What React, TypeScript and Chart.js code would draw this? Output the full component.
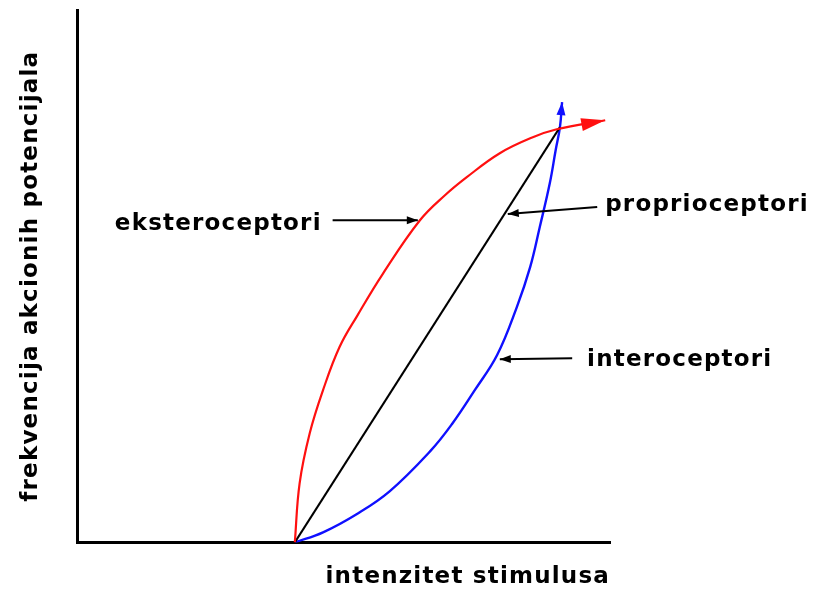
import React, { useEffect, useRef } from "react";
import { Chart, registerables } from "chart.js";

Chart.register(...registerables);

// Axis ranges (abstract units)
const X_RANGE = [0, 10];
const Y_RANGE = [0, 10];

// Axis titles
const X_TITLE = "intenzitet stimulusa";
const Y_TITLE = "frekvencija akcionih potencijala";

// Series: eksteroceptori (red)
const EXTERO_X = [4.08, 4.17, 4.36, 4.61, 4.92, 5.26, 5.73, 6.43, 6.9, 7.31, 7.93, 8.55, 9.0, 9.91];
const EXTERO_Y = [0.0, 1.11, 2.05, 2.86, 3.67, 4.27, 5.04, 6.05, 6.52, 6.86, 7.31, 7.61, 7.76, 7.93];

// Series: proprioceptori (black)
const PROPRIO_X = [4.08, 9.06];
const PROPRIO_Y = [0.0, 7.8];

// Series: interoceptori (blue)
const INTERO_X = [4.08, 4.61, 5.24, 5.86, 6.62, 7.03, 7.46, 7.88, 8.25, 8.5, 8.68, 8.87, 8.98, 9.06, 9.1];
const INTERO_Y = [0.0, 0.19, 0.53, 0.96, 1.71, 2.22, 2.86, 3.52, 4.42, 5.17, 5.92, 6.75, 7.37, 7.8, 8.27];

// Labels with pointer arrows (data coordinates)
const LABEL_TEXT = ["eksteroceptori", "proprioceptori", "interoceptori"];
const LABEL_X = [0.7, 9.91, 9.57];
const LABEL_Y = [5.98, 6.33, 3.42];
const POINTER_FROM_X = [4.79, 9.76, 9.29];
const POINTER_FROM_Y = [6.05, 6.3, 3.46];
const POINTER_TO_X = [6.39, 8.08, 7.93];
const POINTER_TO_Y = [6.05, 6.17, 3.44];

const FONT_FAMILY = "'DejaVu Sans', Verdana, sans-serif";
const FONT_SIZE = 23;
const LETTER_SPACING = "1.2px";

const toPoints = (xs: number[], ys: number[]) => xs.map((x, i) => ({ x, y: ys[i] }));

function drawHead(ctx: CanvasRenderingContext2D, x0: number, y0: number, x1: number, y1: number, len: number, half: number, color: string) {
  const ang = Math.atan2(y1 - y0, x1 - x0);
  const bx = x1 - Math.cos(ang) * len;
  const by = y1 - Math.sin(ang) * len;
  ctx.save();
  ctx.fillStyle = color;
  ctx.beginPath();
  ctx.moveTo(x1, y1);
  ctx.lineTo(bx + Math.sin(ang) * half, by - Math.cos(ang) * half);
  ctx.lineTo(bx - Math.sin(ang) * half, by + Math.cos(ang) * half);
  ctx.closePath();
  ctx.fill();
  ctx.restore();
}

const letterSpacingPlugin = {
  id: "letterSpacing",
  beforeDraw(chart: any) {
    (chart.ctx as any).letterSpacing = LETTER_SPACING;
  },
};

const ARROW_SIZES: Record<number, [number, number]> = { 0: [24, 6.5], 2: [13, 4.5] };

const arrowHeadsPlugin = {
  id: "arrowHeads",
  afterDatasetsDraw(chart: any) {
    const ctx = chart.ctx as CanvasRenderingContext2D;
    chart.data.datasets.forEach((ds: any, i: number) => {
      const size = ARROW_SIZES[i];
      if (!size) return;
      const meta = chart.getDatasetMeta(i);
      const pts = meta.data;
      const a = pts[pts.length - 2];
      const b = pts[pts.length - 1];
      drawHead(ctx, a.x, a.y, b.x, b.y, size[0], size[1], ds.borderColor);
    });
  },
};

const labelsPlugin = {
  id: "pointerLabels",
  afterDatasetsDraw(chart: any) {
    const ctx = chart.ctx as CanvasRenderingContext2D;
    const xs = chart.scales.x;
    const ys = chart.scales.y;
    ctx.save();
    (ctx as any).letterSpacing = LETTER_SPACING;
    ctx.font = `bold ${FONT_SIZE}px ${FONT_FAMILY}`;
    ctx.fillStyle = "#000";
    ctx.textAlign = "left";
    ctx.textBaseline = "middle";
    LABEL_TEXT.forEach((t, i) => {
      ctx.fillText(t, xs.getPixelForValue(LABEL_X[i]), ys.getPixelForValue(LABEL_Y[i]));
      const x0 = xs.getPixelForValue(POINTER_FROM_X[i]);
      const y0 = ys.getPixelForValue(POINTER_FROM_Y[i]);
      const x1 = xs.getPixelForValue(POINTER_TO_X[i]);
      const y1 = ys.getPixelForValue(POINTER_TO_Y[i]);
      ctx.strokeStyle = "#000";
      ctx.lineWidth = 2;
      ctx.beginPath();
      ctx.moveTo(x0, y0);
      ctx.lineTo(x1, y1);
      ctx.stroke();
      drawHead(ctx, x0, y0, x1, y1, 11, 4, "#000");
    });
    ctx.restore();
  },
};

export default function App() {
  const ref = useRef<HTMLCanvasElement | null>(null);

  useEffect(() => {
    if (!ref.current) return;
    const chart = new Chart(ref.current, {
      type: "scatter",
      data: {
        datasets: [
          {
            label: "eksteroceptori",
            data: toPoints(EXTERO_X, EXTERO_Y),
            showLine: true,
            borderColor: "#ff1010",
            borderWidth: 2.2,
            pointRadius: 0,
            tension: 0.4,
          },
          {
            label: "proprioceptori",
            data: toPoints(PROPRIO_X, PROPRIO_Y),
            showLine: true,
            borderColor: "#000000",
            borderWidth: 2,
            pointRadius: 0,
          },
          {
            label: "interoceptori",
            data: toPoints(INTERO_X, INTERO_Y),
            showLine: true,
            borderColor: "#1010ff",
            borderWidth: 2.4,
            pointRadius: 0,
            tension: 0.4,
          },
        ],
      },
      options: {
        responsive: false,
        animation: false,
        events: [],
        layout: { padding: { left: 17, right: 207, top: 10, bottom: 2 } },
        plugins: {
          legend: { display: false },
          tooltip: { enabled: false },
        },
        scales: {
          x: {
            type: "linear",
            min: X_RANGE[0],
            max: X_RANGE[1],
            grid: { display: false, drawTicks: false },
            ticks: { display: false },
            border: { display: true, color: "#000", width: 3 },
            title: {
              display: true,
              text: X_TITLE,
              align: "end",
              color: "#000",
              font: { family: FONT_FAMILY, size: FONT_SIZE, weight: "bold" },
              padding: { top: 21, bottom: 0 },
            },
          },
          y: {
            type: "linear",
            min: Y_RANGE[0],
            max: Y_RANGE[1],
            grid: { display: false, drawTicks: false },
            ticks: { display: false },
            border: { display: true, color: "#000", width: 3 },
            title: {
              display: true,
              text: Y_TITLE,
              color: "#000",
              font: { family: FONT_FAMILY, size: FONT_SIZE, weight: "bold" },
              padding: { top: 0, bottom: 33 },
            },
          },
        },
      },
      plugins: [letterSpacingPlugin, arrowHeadsPlugin, labelsPlugin],
    });
    return () => chart.destroy();
  }, []);

  return (
    <div style={{ position: "fixed", left: 0, top: 0, width: 817, height: 593, background: "#fff" }}>
      <canvas ref={ref} width={817} height={593} />
    </div>
  );
}
